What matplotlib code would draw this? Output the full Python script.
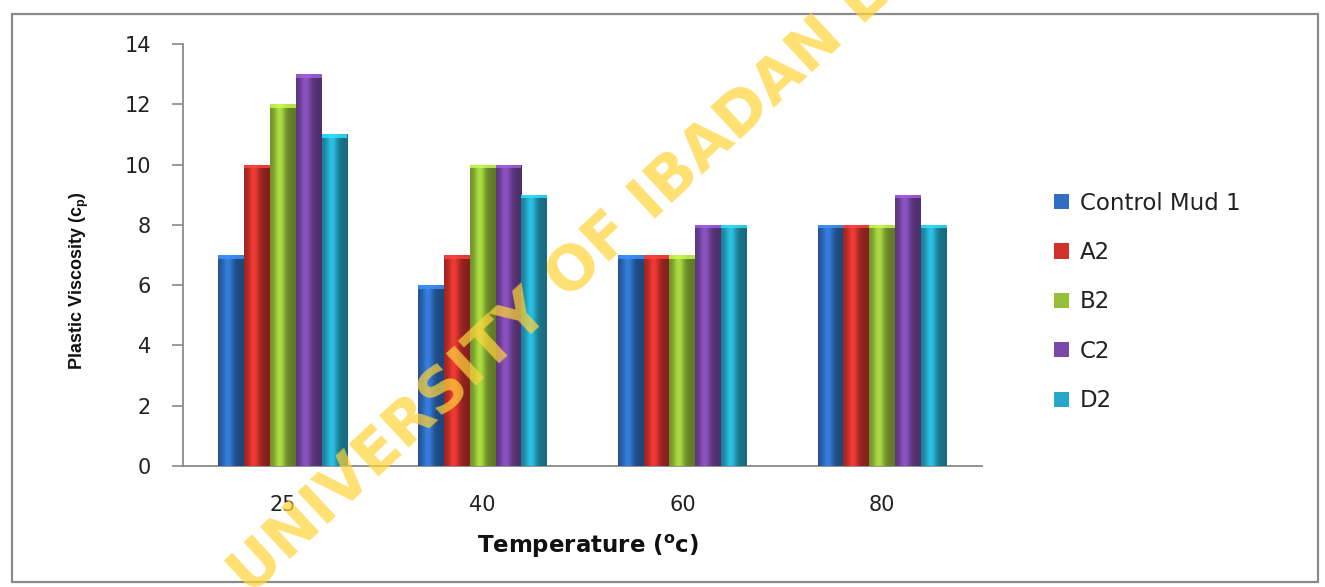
import numpy as np
import matplotlib
matplotlib.use("Agg")
import matplotlib.pyplot as plt
from matplotlib.colors import to_rgb
from matplotlib.patches import Rectangle

# ---- data ----
temperatures = ["25", "40", "60", "80"]
series_names = ["Control Mud 1", "A2", "B2", "C2", "D2"]
control_mud_1 = [7, 6, 7, 8]
a2 = [10, 7, 7, 8]
b2 = [12, 10, 7, 8]
c2 = [13, 10, 8, 9]
d2 = [11, 9, 8, 8]
all_values = [control_mud_1, a2, b2, c2, d2]
colors = ["#2F6EC2", "#D2322D", "#96C03A", "#7A48A8", "#25A8C8"]
y_ticks = [0, 2, 4, 6, 8, 10, 12, 14]

W, H = 1325, 587
fig = plt.figure(figsize=(W / 100, H / 100), dpi=100)
fig.patch.set_facecolor("white")

# outer chart frame
fig.add_artist(Rectangle((12 / W, 1 - 582 / H), (1318 - 12) / W, (582 - 14) / H,
                         transform=fig.transFigure, fill=False,
                         edgecolor="#8a8a8a", linewidth=1.6))

ax_l, ax_r, ax_t, ax_b = 183, 982, 44, 466
ax = fig.add_axes([ax_l / W, 1 - ax_b / H, (ax_r - ax_l) / W, (ax_b - ax_t) / H])

n = len(series_names)
x = np.arange(len(temperatures))
bw = 0.129

for i, (name, vals, col) in enumerate(zip(series_names, all_values, colors)):
    offs = (i - (n - 1) / 2) * bw
    bars = ax.bar(x + offs, vals, width=bw, color=col, label=name,
                  edgecolor="none", zorder=2)
    base = np.array(to_rgb(col))
    # cylinder-like horizontal shading
    t = np.linspace(0, 1, 64)
    shade = 0.74 + 0.45 * np.exp(-((t - 0.38) / 0.22) ** 2) - 0.1 * t
    grad = np.clip(base[None, :] * shade[:, None], 0, 1)[None, :, :]
    for b in bars:
        x0, w, h = b.get_x(), b.get_width(), b.get_height()
        im = ax.imshow(grad, extent=(x0, x0 + w, 0, h), aspect="auto",
                       zorder=3, interpolation="bilinear")
        im.set_clip_path(b)
        # lighter cap at the top
        ax.add_patch(Rectangle((x0, h - 0.12), w, 0.12,
                               facecolor=np.clip(base * 1.35, 0, 1),
                               edgecolor="none", zorder=4, alpha=0.8))

ax.set_xlim(-0.5, len(temperatures) - 0.5)
ax.set_ylim(0, 14)
ax.set_yticks(y_ticks)
ax.set_xticks(x)
ax.set_xticklabels(temperatures)
for s in ["top", "right"]:
    ax.spines[s].set_visible(False)
for s in ["left", "bottom"]:
    ax.spines[s].set_color("#8a8a8a")
    ax.spines[s].set_linewidth(1.3)
ax.tick_params(axis="y", direction="out", length=8, width=1.2, color="#8a8a8a",
               labelsize=15, pad=15, labelcolor="#222222")
ax.tick_params(axis="x", length=0, labelsize=15, pad=21, labelcolor="#222222")
for lab in ax.get_xticklabels() + ax.get_yticklabels():
    lab.set_family(["DejaVu Sans"])

ax.set_xlabel(r"Temperature ($\mathregular{^{o}}$c)", fontsize=16.5, fontweight="bold",
              family=["DejaVu Sans"], color="#111111")
ax.xaxis.set_label_coords(0.507, -0.158)
ax.set_ylabel(r"Plastic Viscosity (c$\mathregular{_p}$)", fontsize=13, fontweight="bold",
              family=["Liberation Sans", "DejaVu Sans"], color="#111111")
ax.yaxis.set_label_coords(-0.115, 0.44)

leg = ax.legend(loc="center left", bbox_to_anchor=(1043 / W, 1 - 302 / H),
                bbox_transform=fig.transFigure, frameon=False,
                prop={"family": ["DejaVu Sans"], "size": 16.5},
                handlelength=0.65, handleheight=0.65, handletextpad=0.45,
                labelspacing=1.15, borderpad=0)
for txt in leg.get_texts():
    txt.set_color("#222222")

# watermark
fig.text(250 / W, 1 - 596 / H, "UNIVERSITY OF IBADAN LIBRARY", rotation=43,
         rotation_mode="anchor", ha="left", va="baseline", fontsize=44,
         fontweight="bold", color="#FFD43B", alpha=0.72,
         family=["DejaVu Sans"], zorder=10)

fig.savefig("out.png", dpi=100, facecolor="white")
